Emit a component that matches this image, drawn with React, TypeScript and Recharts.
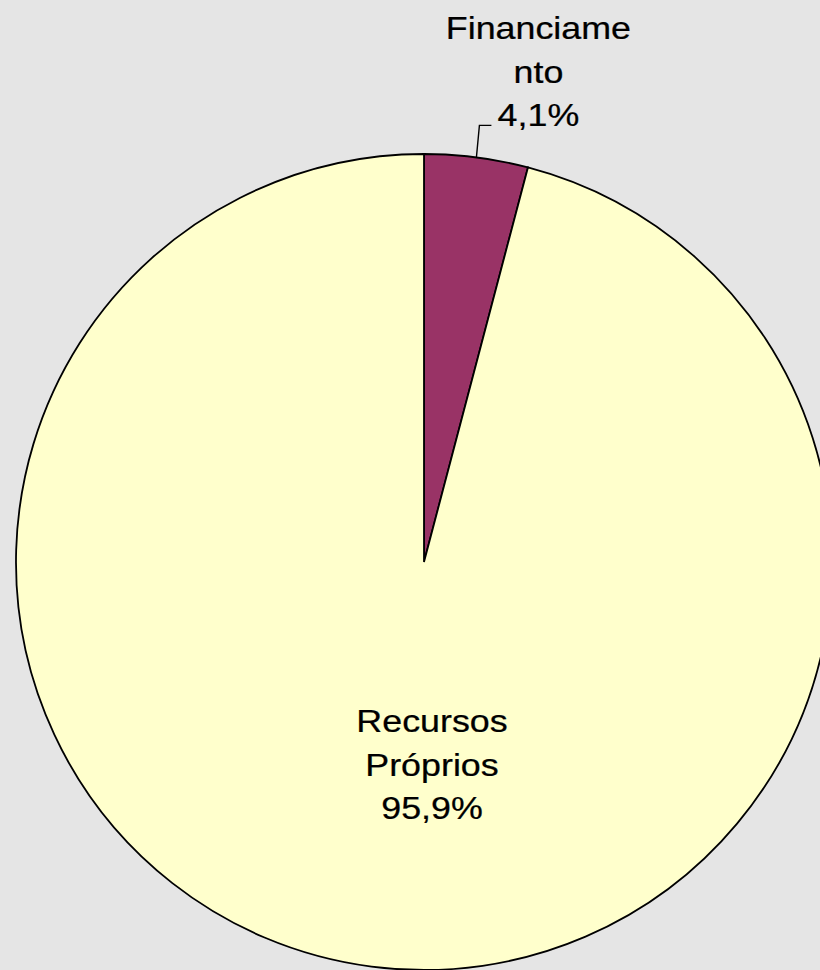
import React from 'react';
import { PieChart, Pie, Cell } from 'recharts';

const categories = ['Financiamento', 'Recursos Próprios'];
const values = [4.1, 95.9];
const labelLines = [
  ['Financiame', 'nto', '4,1%'],
  ['Recursos', 'Próprios', '95,9%'],
];
const colors = ['#993366', '#FFFFCC'];

const data = categories.map((name, i) => ({ name, value: values[i] }));

const RAD = Math.PI / 180;
const FONT = '"Liberation Sans", Arial, sans-serif';
const FS = 32;
const SX = 1.12;
const LH = 43.5;

function Lines({ x, lastBaseline, lines }: { x: number; lastBaseline: number; lines: string[] }) {
  const n = lines.length;
  return (
    <g>
      {lines.map((t, i) => (
        <text
          key={i}
          x={0}
          y={0}
          transform={`translate(${x},${lastBaseline - (n - 1 - i) * LH}) scale(${SX},1)`}
          textAnchor="middle"
          fontFamily={FONT}
          fontSize={FS}
          fill="#000"
          stroke="#000"
          strokeWidth={0.25}
        >
          {t}
        </text>
      ))}
    </g>
  );
}

const renderLabel = (props: any) => {
  const { cx, cy, midAngle, outerRadius, index } = props;
  if (index === 0) {
    const mx = cx + outerRadius * Math.cos(-midAngle * RAD);
    const my = cy + outerRadius * Math.sin(-midAngle * RAD);
    return (
      <g>
        <polyline
          points={`${mx},${my} ${mx + 3},${my - 32} ${mx + 15},${my - 32}`}
          fill="none"
          stroke="#000"
          strokeWidth={1.4}
        />
        <Lines x={mx + 62} lastBaseline={my - 31} lines={labelLines[0]} />
      </g>
    );
  }
  return <Lines x={cx + 8} lastBaseline={cy + 257} lines={labelLines[1]} />;
};

export default function App() {
  return (
    <div
      style={{
        position: 'fixed',
        left: 0,
        top: 0,
        width: 820,
        height: 970,
        overflow: 'hidden',
        background: '#E5E5E5',
      }}
    >
      <PieChart width={880} height={1010} margin={{ top: 0, right: 0, bottom: 0, left: 0 }}>
        <Pie
          data={data}
          dataKey="value"
          nameKey="name"
          cx={424}
          cy={562}
          outerRadius={408}
          startAngle={90}
          endAngle={-270}
          stroke="#000"
          strokeWidth={1.8}
          label={renderLabel}
          labelLine={false}
          isAnimationActive={false}
        >
          {data.map((d, i) => (
            <Cell key={d.name} fill={colors[i]} />
          ))}
        </Pie>
      </PieChart>
    </div>
  );
}
